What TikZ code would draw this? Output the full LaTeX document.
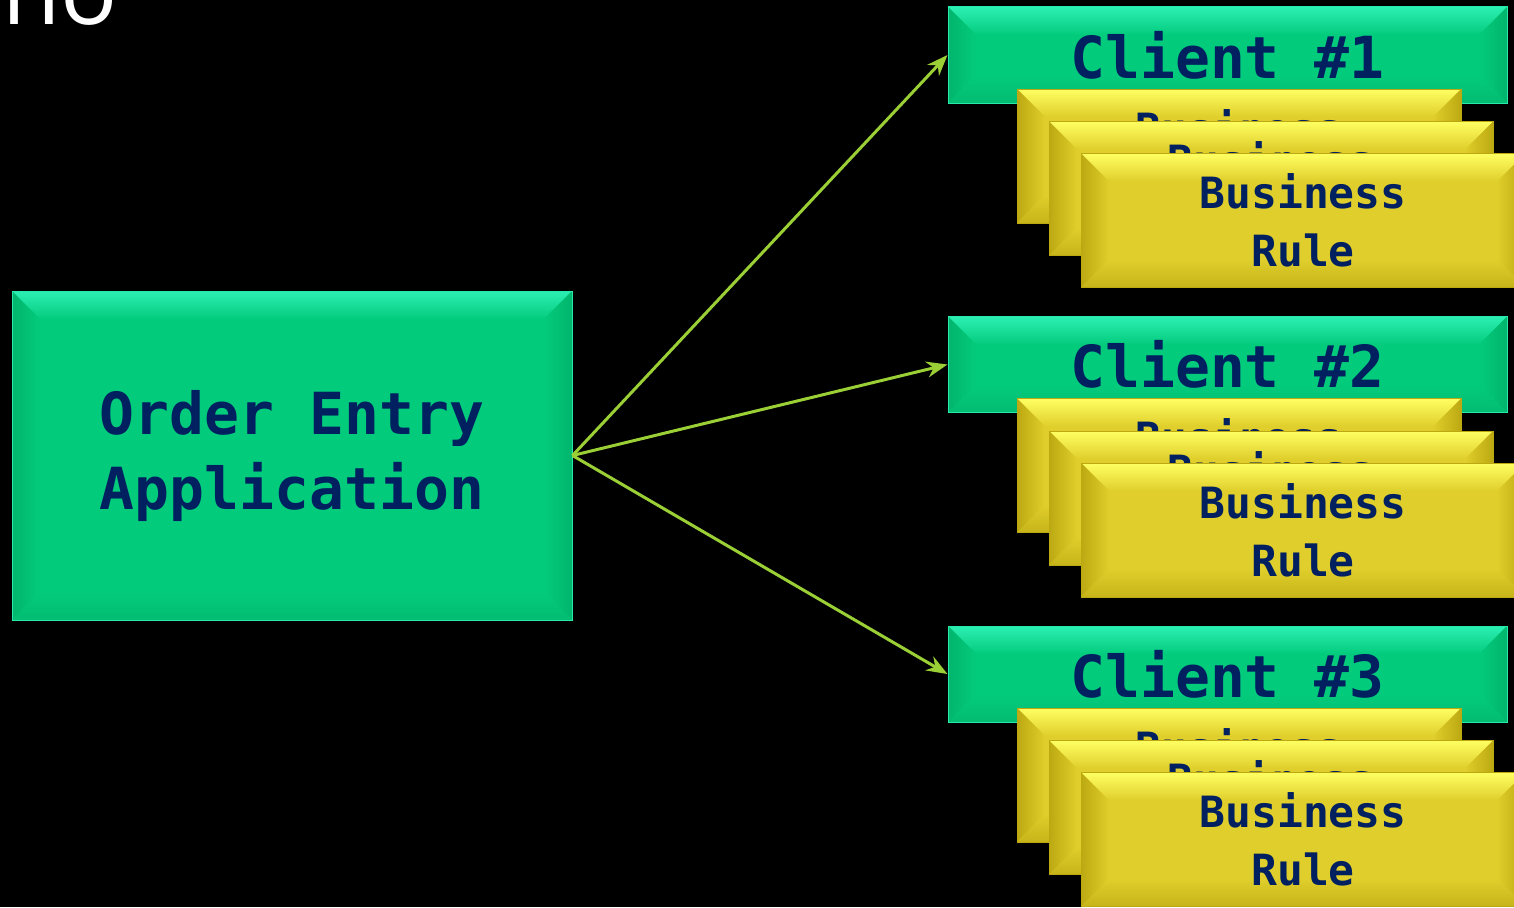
\documentclass[tikz,border=0pt]{standalone}
\usepackage{fontspec}
\newfontfamily\codefont{DejaVu Sans Mono}
\newfontfamily\slidefont{Open Sans}
\usetikzlibrary{arrows.meta}
\definecolor{bg}{HTML}{000000}
\definecolor{app}{HTML}{03CB7C}
\definecolor{applt}{HTML}{3DFFCB}
\definecolor{appdk}{HTML}{02B56D}
\definecolor{rule}{HTML}{DFCE2B}
\definecolor{rulelt}{HTML}{FFFF62}
\definecolor{ruledk}{HTML}{BCA912}
\definecolor{txt}{HTML}{002060}
\definecolor{flow}{HTML}{9BCF36}
\tikzset{
  bev/.style n args={3}{fill=#1, path picture={
    \path (path picture bounding box.north west) coordinate (pa)
          (path picture bounding box.north east) coordinate (pb)
          (path picture bounding box.south east) coordinate (pc)
          (path picture bounding box.south west) coordinate (pd);
    \shade[top color=#2, bottom color=#1] (pa) -- (pb) -- ([shift={(-28pt,-28pt)}]pb) -- ([shift={(28pt,-28pt)}]pa) -- cycle;
    \shade[left color=#3, right color=#1] (pa) -- ([shift={(28pt,-28pt)}]pa) -- ([shift={(28pt,28pt)}]pd) -- (pd) -- cycle;
    \shade[left color=#1, right color=#3] (pb) -- ([shift={(-28pt,-28pt)}]pb) -- ([shift={(-28pt,28pt)}]pc) -- (pc) -- cycle;
    \shade[top color=#1, bottom color=#3!70!#1] (pd) -- ([shift={(28pt,28pt)}]pd) -- ([shift={(-28pt,28pt)}]pc) -- (pc) -- cycle;
  }},
  appbox/.style={rectangle, bev={app}{applt!70!app}{appdk}, draw=applt!60!app, line width=1pt, inner sep=0pt,
    text=txt, align=center, font={\codefont\bfseries\fontsize{58}{75}\selectfont}},
  rulebox/.style={rectangle, bev={rule}{rulelt}{ruledk}, draw=ruledk, line width=1pt, inner sep=0pt,
    minimum width=444pt, minimum height=134pt, text=txt, align=center,
    font={\codefont\bfseries\fontsize{43}{58}\selectfont}},
  e/.style={draw=flow, line width=3pt, -{Stealth[length=21pt, width=16pt]}},
}

\begin{document}
\begin{tikzpicture}[x=1pt, y=-1pt]
\fill[bg] (0,0) rectangle (1514,907);
\useasboundingbox (0,0) rectangle (1514,907);
\clip (0,0) rectangle (1514,907);

% ---------------- title remnant ----------------
\node[anchor=base west, inner sep=0pt, text=white, font={\slidefont\fontsize{95}{100}\selectfont}] (ttl) at (2,25) {no};

% ---------------- order entry ----------------
\node[appbox, minimum width=560pt, minimum height=329pt] (order) at (292,455.5) {Order Entry\\Application};

% ---------------- clients with their rules ----------------
\foreach \i in {1,2,3} {
  \pgfmathsetmacro{\dy}{(\i-1)*309.5}
  \node[appbox, minimum width=559pt, minimum height=96pt] (client\i) at (1227.5,55+\dy) {Client \#\i};
  \node[rulebox] (rule\i a) at (1239,156+\dy) {Business\\Rule};
  \node[rulebox] (rule\i b) at (1271,188.5+\dy) {Business\\Rule};
  \node[rulebox] (rule\i c) at (1303,220.5+\dy) {Business\\Rule};
}

% ---------------- links ----------------
\foreach \i in {1,2,3}
  \draw[e] (order.east) -- (client\i.west);
\end{tikzpicture}
\end{document}
